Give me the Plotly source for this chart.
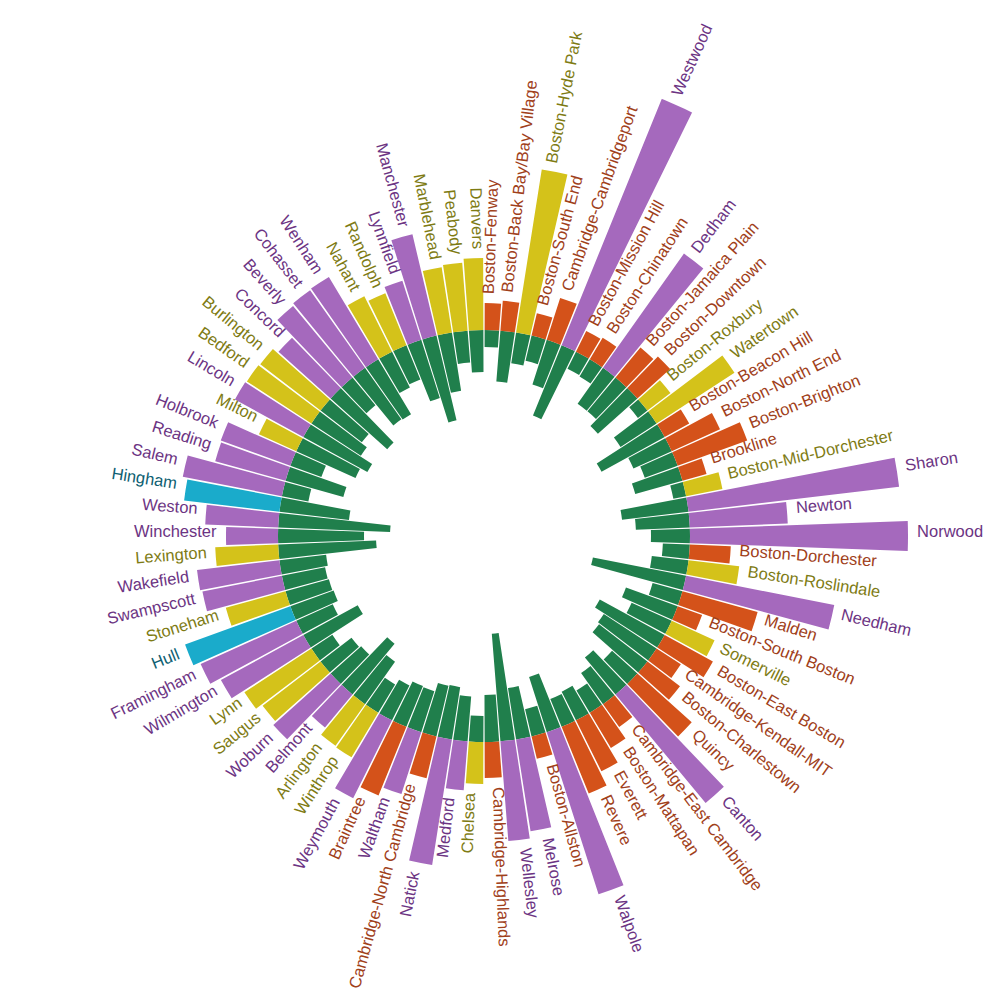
import numpy as np
import plotly.graph_objects as go

# places, clockwise from the top
names = [
    "Boston-Fenway", "Boston-Back Bay/Bay Village", "Boston-Hyde Park", "Boston-South End",
    "Cambridge-Cambridgeport", "Westwood", "Boston-Mission Hill", "Boston-Chinatown", "Dedham",
    "Boston-Jamaica Plain", "Boston-Downtown", "Boston-Roxbury", "Watertown", "Boston-Beacon Hill",
    "Boston-North End", "Boston-Brighton", "Brookline", "Boston-Mid-Dorchester", "Sharon", "Newton",
    "Norwood", "Boston-Dorchester", "Boston-Roslindale", "Needham", "Malden", "Boston-South Boston",
    "Somerville", "Boston-East Boston", "Cambridge-Kendall-MIT", "Boston-Charlestown", "Quincy",
    "Canton", "Cambridge-East Cambridge", "Boston-Mattapan", "Everett", "Revere", "Walpole",
    "Boston-Allston", "Melrose", "Wellesley", "Cambridge-Highlands", "Chelsea", "Medford", "Natick",
    "Cambridge-North Cambridge", "Waltham", "Braintree", "Weymouth", "Winthrop", "Arlington",
    "Belmont", "Woburn", "Saugus", "Lynn", "Wilmington", "Framingham", "Hull", "Stoneham",
    "Swampscott", "Wakefield", "Lexington", "Winchester", "Weston", "Hingham", "Salem", "Reading",
    "Holbrook", "Milton", "Lincoln", "Bedford", "Burlington", "Concord", "Beverly", "Cohasset",
    "Wenham", "Nahant", "Randolph", "Lynnfield", "Manchester", "Marblehead", "Peabody", "Danvers",
]

# group of each place (sets the colour)
groups = list(
    "OOYOOPOOPOOYYOOOOYPPPOYPOOYOOOOPOOOOPOPPOYPPOPOPYYPPYYPPCYPPYPPCPPPYPYYPPPPYYPPYYY"
)

# outer bar values
outer = [
    27, 30, 165, 23, 44, 282, 23, 25, 140, 39, 44, 29, 93, 28, 53, 74, 25, 37, 212, 98,
    218, 41, 51, 151, 78, 26, 47, 55, 29, 41, 73, 141, 28, 41, 57, 72, 170, 23, 93, 100,
    36, 42, 49, 127, 43, 65, 74, 87, 52, 51, 43, 77, 73, 80, 94, 105, 112, 62, 81, 83,
    63, 52, 73, 96, 101, 73, 74, 41, 78, 77, 76, 70, 93, 95, 96, 62, 56, 62, 104, 66,
    68, 72,
]

# inner (green) bar values
inner = [
    17, 51, 31, 26, 47, 76, 19, 20, 44, 44, 53, 12, 43, 72, 42, 35, 49, 13, 67, 54,
    39, 27, 37, 95, 31, 55, 44, 74, 63, 61, 34, 48, 38, 26, 32, 30, 58, 28, 52, 108,
    47, 26, 45, 53, 52, 43, 44, 39, 33, 52, 66, 41, 39, 25, 62, 40, 46, 45, 44, 47,
    98, 86, 112, 70, 27, 60, 33, 65, 73, 59, 52, 76, 36, 63, 64, 40, 37, 61, 87, 59,
    32, 42,
]

bar_colors = {"P": "#A569BD", "Y": "#D4C21A", "O": "#D4521A", "C": "#1AABCB"}
text_colors = {"P": "#6C3483", "Y": "#7E7B14", "O": "#A0401A", "C": "#0E6072"}
green = "#207F4C"

ring = 206
rmax = 472  # edge of the polar frame, bars are cut there
n = len(names)

fig = go.Figure()

fig.add_trace(go.Barpolar(
    r=inner, theta=names, base=[ring - v for v in inner],
    marker=dict(color=green, line=dict(width=0)),
    hoverinfo="skip", showlegend=False,
))
fig.add_trace(go.Barpolar(
    r=outer, theta=names, base=[ring] * n,
    marker=dict(color=[bar_colors[g] for g in groups], line=dict(width=0)),
    hoverinfo="skip", showlegend=False,
))
# hidden cartesian layer used to place the labels
fig.add_trace(go.Scatter(
    x=[0], y=[0], mode="markers", marker=dict(opacity=0),
    hoverinfo="skip", showlegend=False,
))

annotations = []
for i, (name, g, v) in enumerate(zip(names, groups, outer)):
    ang = (i + 0.5) * 360 / n
    rr = min(ring + v, rmax) + 9
    x = rr * np.sin(np.radians(ang))
    y = rr * np.cos(np.radians(ang))
    hidden = "<span style='color:rgba(0,0,0,0)'>" + name + "</span>"
    if ang < 180:
        txt = hidden + name
        ta = ang - 90
    else:
        txt = name + hidden
        ta = ang - 270
    # text sits on its baseline, so nudge it "up" in its own frame
    up = 5.5
    annotations.append(dict(
        x=x, y=y, xref="x", yref="y", text=txt, showarrow=False,
        textangle=ta, xanchor="center", yanchor="middle", borderpad=0,
        xshift=up * np.sin(np.radians(ta)), yshift=up * np.cos(np.radians(ta)),
        font=dict(family="Liberation Sans, Arial", size=16.5, color=text_colors[g]),
    ))

fig.update_layout(
    width=1000, height=1000,
    margin=dict(l=0, r=0, t=0, b=0),
    paper_bgcolor="white", plot_bgcolor="white",
    showlegend=False,
    polar=dict(
        domain=dict(x=[0, 0.952], y=[0, 0.944]),
        bgcolor="white",
        barmode="overlay",
        bargap=0.08,
        radialaxis=dict(range=[0, rmax], visible=False),
        angularaxis=dict(type="category", rotation=90 - 180 / n,
                         direction="clockwise", visible=False),
    ),
    xaxis=dict(domain=[0, 0.952], range=[-476, 476], visible=False, fixedrange=True),
    yaxis=dict(domain=[0, 0.944], range=[-472, 472], visible=False, fixedrange=True),
    annotations=annotations,
)

fig.write_html("out.html")
